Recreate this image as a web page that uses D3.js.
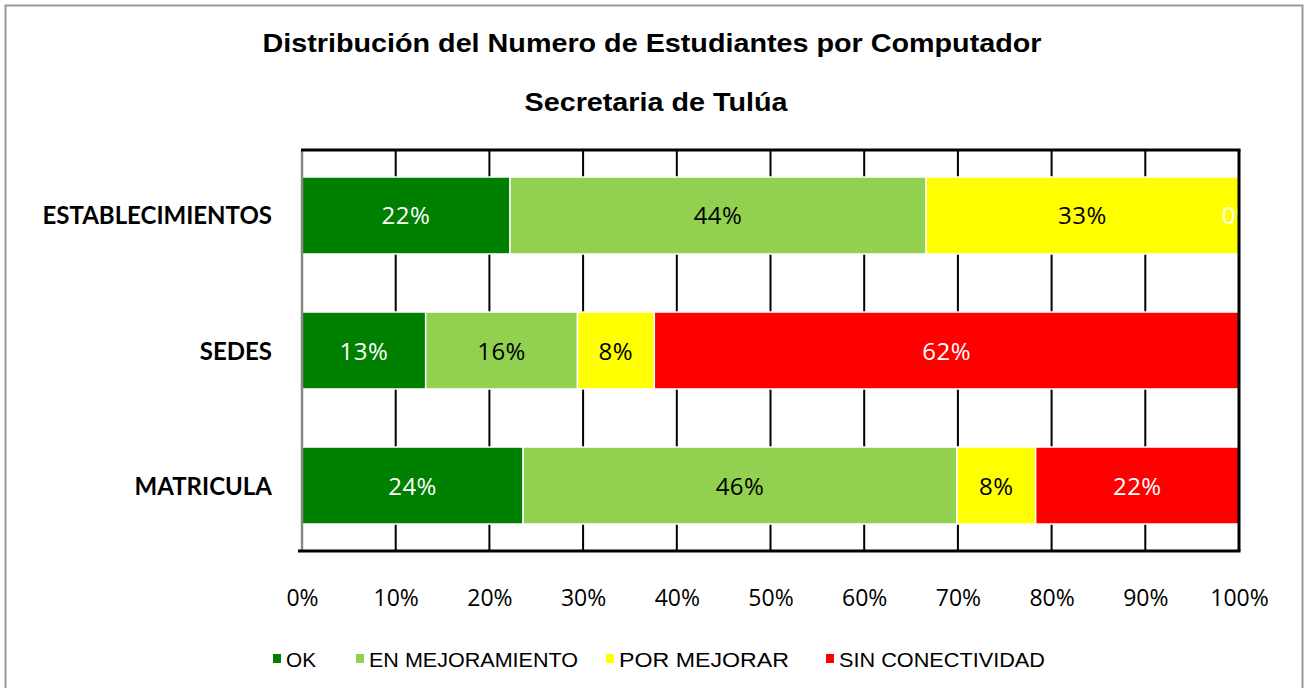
<!DOCTYPE html>
<html><head><meta charset="utf-8">
<script src="https://cdn.jsdelivr.net/npm/d3@7"></script>
<style>body{margin:0;background:#fff;} svg{display:block;}</style>
</head><body>
<svg id="chart" width="1304" height="688"></svg>
<script>
const categories = ["ESTABLECIMIENTOS", "SEDES", "MATRICULA"];
const seriesNames = ["OK", "EN MEJORAMIENTO", "POR MEJORAR", "SIN CONECTIVIDAD"];
const okValues = [22.2, 13.2, 23.6];
const enMejValues = [44.4, 16.2, 46.3];
const porMejValues = [33.4, 8.2, 8.4];
const sinConValues = [0, 62.4, 21.7];
const tickValues = [0, 10, 20, 30, 40, 50, 60, 70, 80, 90, 100];
const colors = ["#008000", "#92D050", "#FFFF00", "#FF0000"];
const labelColors = ["#fff", "#000", "#000", "#fff"];

const svg = d3.select("#chart");
svg.append("rect").attr("x",5.5).attr("y",5.5).attr("width",1297).attr("height",700)
  .attr("fill","#fff").attr("stroke","#999").attr("stroke-width",2);

const L = 302, R = 1239, T = 150, B = 551;
const x = d3.scaleLinear().domain([0,100]).range([L,R]);
const y = d3.scaleBand().domain(categories).range([T,B]).paddingInner(0.43).paddingOuter(0.2);

svg.append("text").attr("x",652).attr("y",52).attr("text-anchor","middle")
  .attr("font-family","Liberation Sans, Arial, sans-serif").attr("font-weight","bold")
  .attr("font-size",26).attr("textLength",779).attr("lengthAdjust","spacingAndGlyphs")
  .text("Distribución del Numero  de Estudiantes  por Computador");
svg.append("text").attr("x",656).attr("y",111).attr("text-anchor","middle")
  .attr("font-family","Liberation Sans, Arial, sans-serif").attr("font-weight","bold")
  .attr("font-size",26).attr("textLength",263).attr("lengthAdjust","spacingAndGlyphs")
  .text("Secretaria de Tulúa");

// gridlines
svg.append("g").selectAll("line").data(tickValues.slice(1,10)).join("line")
  .attr("x1",d=>x(d)).attr("x2",d=>x(d)).attr("y1",T).attr("y2",B)
  .attr("stroke","#000").attr("stroke-width",2);

const data = categories.map((c,i)=>({cat:c, vals:[okValues[i],enMejValues[i],porMejValues[i],sinConValues[i]]}));
const defs = svg.append("defs");
defs.append("clipPath").attr("id","plotclip").append("rect").attr("x",L).attr("y",T).attr("width",R-L).attr("height",B-T);

const g = svg.append("g").attr("clip-path","url(#plotclip)");
data.forEach(d=>{
  let acc = 0;
  d.vals.forEach((v,j)=>{
    const x0 = acc, x1 = acc+v; acc = x1;
    g.append("rect").attr("x",x(x0)).attr("y",y(d.cat)).attr("width",x(x1)-x(x0)).attr("height",y.bandwidth())
      .attr("fill",colors[j]).attr("stroke","#fff").attr("stroke-width",v>0?1.5:0);
    g.append("text").attr("x",(x(x0)+x(x1))/2).attr("y",y(d.cat)+y.bandwidth()/2+9)
      .attr("text-anchor","middle").attr("font-family","Open Sans, sans-serif").attr("font-size",24)
      .attr("letter-spacing",0.5)
      .attr("fill",labelColors[j]).text(Math.round(v)+"%");
  });
});

// borders
svg.append("line").attr("x1",L).attr("x2",L).attr("y1",T).attr("y2",B).attr("stroke","#888").attr("stroke-width",2.5);
svg.append("line").attr("x1",L-1).attr("x2",R+1.5).attr("y1",T).attr("y2",T).attr("stroke","#000").attr("stroke-width",3);
svg.append("line").attr("x1",R).attr("x2",R).attr("y1",T).attr("y2",B).attr("stroke","#000").attr("stroke-width",3);
svg.append("line").attr("x1",L-4).attr("x2",R+1.5).attr("y1",B).attr("y2",B).attr("stroke","#000").attr("stroke-width",3);

// x tick labels via axis
const ax = svg.append("g").attr("transform",`translate(0,${B})`)
  .call(d3.axisBottom(x).tickValues(tickValues).tickFormat(d=>d+"%").tickSize(0).tickPadding(39));
ax.select(".domain").remove();
ax.selectAll("text").attr("font-family","Open Sans, sans-serif").attr("font-size",23).attr("fill","#000");

// category labels
svg.append("g").selectAll("text").data(categories).join("text")
  .attr("x",272).attr("y",d=>y(d)+y.bandwidth()/2+9).attr("text-anchor","end")
  .attr("font-family","Lato, sans-serif").attr("font-weight","bold").attr("font-size",24).text(d=>d);

// legend
const legX = [273, 356, 606, 826];
const legW = [30, 209, 170, 206];
const lg = svg.append("g");
seriesNames.forEach((s,i)=>{
  lg.append("rect").attr("x",legX[i]).attr("y",654).attr("width",8).attr("height",9).attr("fill",colors[i]);
  lg.append("text").attr("x",legX[i]+13).attr("y",667).attr("font-family","Liberation Sans, Arial, sans-serif")
    .attr("font-size",21).attr("textLength",legW[i]).attr("lengthAdjust","spacingAndGlyphs").text(s);
});
</script>
</body></html>
